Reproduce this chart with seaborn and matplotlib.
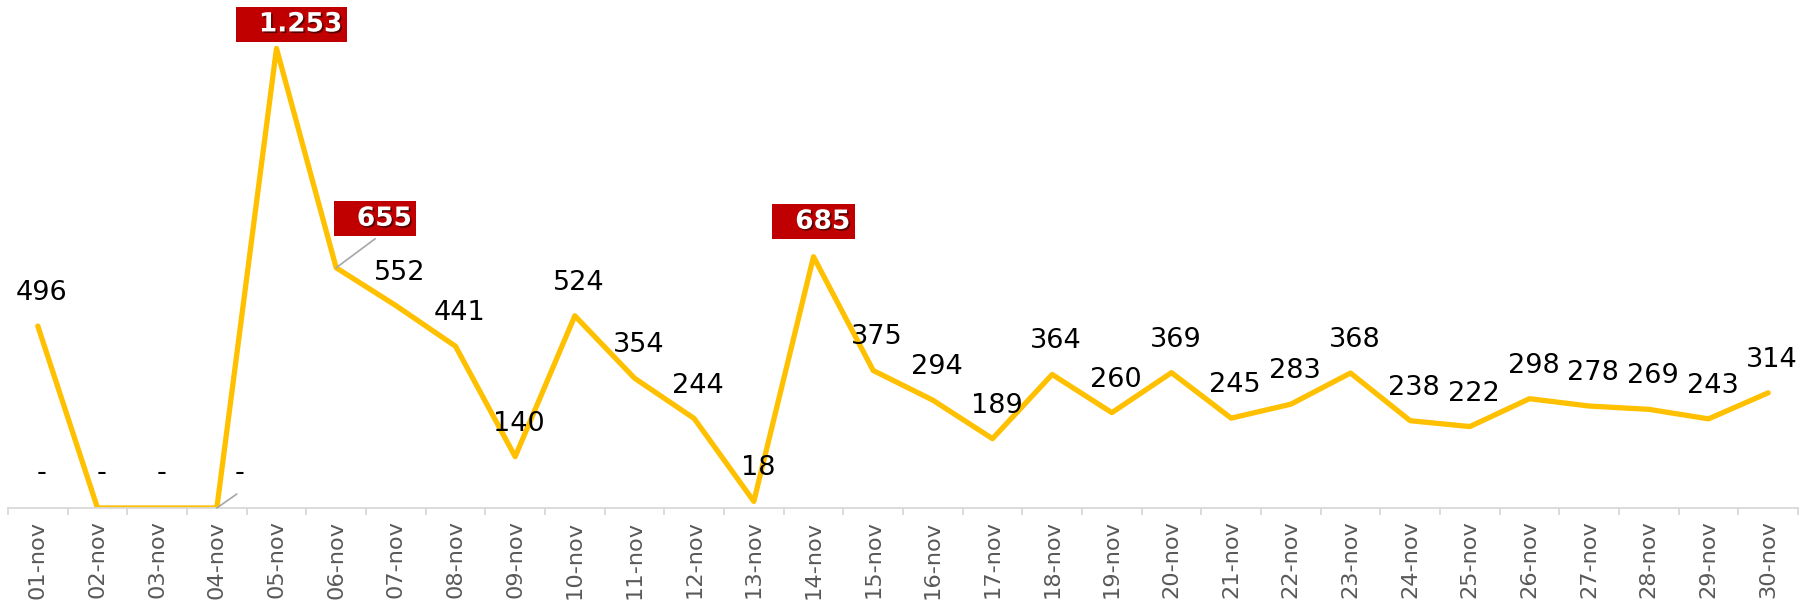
import matplotlib
matplotlib.use("Agg")
import matplotlib.pyplot as plt
import matplotlib.patheffects as pe
from matplotlib.ticker import FixedLocator
import pandas as pd
import seaborn as sns

# daily values, November
days = [f"{d:02d}-nov" for d in range(1, 31)]
values = [496, 0, 0, 0, 1253, 655, 552, 441, 140, 524, 354, 244, 18, 685, 375,
          294, 189, 364, 260, 369, 245, 283, 368, 238, 222, 298, 278, 269, 243, 314]
# helper series (no line) whose "-" labels sit over the first days
helper_days = ["01-nov", "02-nov", "03-nov", "04-nov"]
helper_values = [0, 0, 0, 0]
# labels shown in red boxes
highlight_days = ["05-nov", "06-nov", "14-nov"]


def fmt(v):
    return "-" if v == 0 else f"{v:,}".replace(",", ".")


df = pd.DataFrame({"day": days, "value": values})

sns.set_style("white")
plt.rcParams["font.family"] = ["DejaVu Sans"]

fig = plt.figure(figsize=(18.1, 6.1), dpi=100)
ax = fig.add_axes([8 / 1810, 102 / 610, 1790 / 1810, 508 / 610])

sns.lineplot(data=df, x="day", y="value", sort=False, color="#FFC000",
             linewidth=3.8, ax=ax)

ax.set_xlim(-0.5, len(days) - 0.5)
ax.set_ylim(0, 1385)
ax.set_xlabel("")
ax.set_ylabel("")
ax.set_yticks([])
for s in ["top", "left", "right"]:
    ax.spines[s].set_visible(False)
ax.spines["bottom"].set_color("#d9d9d9")
ax.spines["bottom"].set_linewidth(1.3)

ax.set_xticks(range(len(days)))
ax.set_xticklabels(days, rotation=90, fontsize=16.2, color="#595959")
ax.tick_params(axis="x", which="major", length=0, pad=9)
ax.xaxis.set_minor_locator(FixedLocator([i - 0.5 for i in range(len(days) + 1)]))
ax.tick_params(axis="x", which="minor", bottom=True, length=5, width=1.3,
               color="#d9d9d9")

# dragged label positions (pixels) for the boxed and moved labels
box_offsets = {"05-nov": (15, 24), "06-nov": (39, 49), "14-nov": (0, 35)}
leader_days = {"06-nov"}

for i, (d, v) in enumerate(zip(days, values)):
    if v == 0:
        continue
    if d in highlight_days:
        dx, dy = box_offsets[d]
        ax.annotate("  " + fmt(v), xy=(i, v), xytext=(dx, dy),
                    textcoords="offset pixels", ha="center", va="center",
                    fontsize=19, fontweight="bold", color="white",
                    bbox=dict(boxstyle="square,pad=0.17", fc="#C00000", ec="none"),
                    path_effects=[pe.withSimplePatchShadow(offset=(1.2, -1.2),
                                                           shadow_rgbFace="black",
                                                           alpha=0.55)])
        if d in leader_days:
            ax.annotate("", xy=(i, v), xytext=(dx, dy - 20),
                        textcoords="offset pixels",
                        arrowprops=dict(arrowstyle="-", color="#a6a6a6", lw=1.2,
                                        shrinkA=0, shrinkB=0))
    else:
        ax.annotate(fmt(v), xy=(i, v), xytext=(4, 33), textcoords="offset pixels",
                    ha="center", va="center", fontsize=19.5, color="black")

for d, v in zip(helper_days, helper_values):
    i = days.index(d)
    if d == "04-nov":
        ax.annotate(fmt(v), xy=(i, v), xytext=(23, 35), textcoords="offset pixels",
                    ha="center", va="center", fontsize=19.5, color="black")
        ax.annotate("", xy=(i, v), xytext=(20, 14), textcoords="offset pixels",
                    arrowprops=dict(arrowstyle="-", color="#a6a6a6", lw=1.2,
                                    shrinkA=0, shrinkB=0))
    else:
        ax.annotate(fmt(v), xy=(i, v), xytext=(4, 35), textcoords="offset pixels",
                    ha="center", va="center", fontsize=19.5, color="black")

fig.savefig("out.png", dpi=100)
